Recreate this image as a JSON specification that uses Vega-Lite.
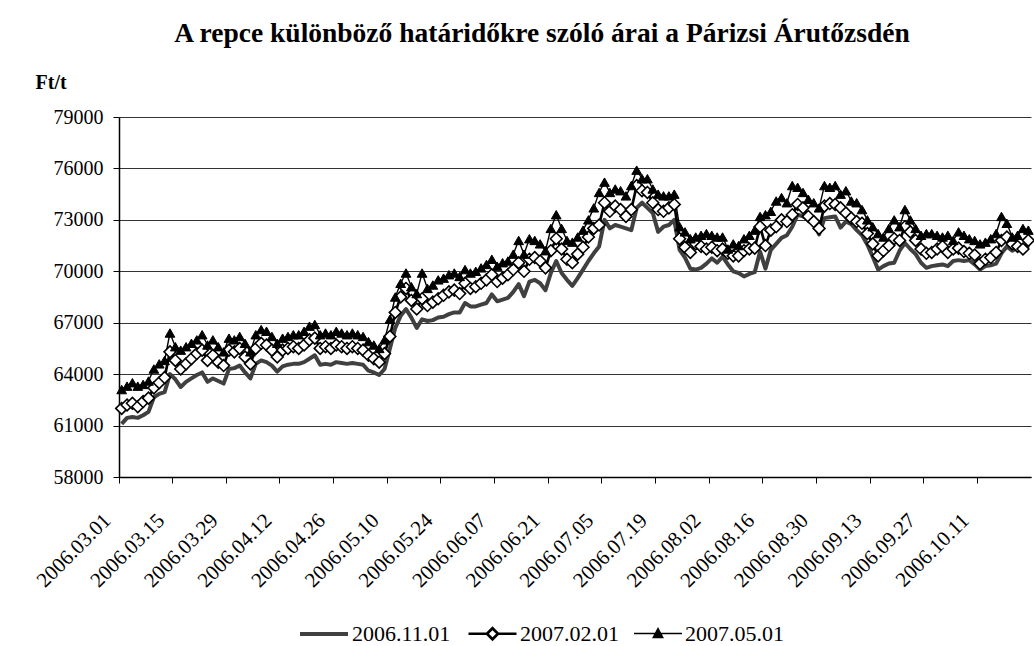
{
"$schema":"https://vega.github.io/schema/vega-lite/v6.json",
"width":912,"height":360,
"autosize":{"type":"none"},
"padding":{"left":119,"top":117,"right":3,"bottom":169},
"background":"white",
"config":{"view":{"stroke":null},"font":"Liberation Serif","axis":{"labelFont":"Liberation Serif","titleFont":"Liberation Serif"},"legend":{"labelFont":"Liberation Serif"}},
"title":{"text":"A repce különböző határidőkre szóló árai a Párizsi Árutőzsdén","font":"Liberation Serif","fontSize":27.5,"fontWeight":"bold","color":"#000","anchor":"middle","dx":-33,"offset":25},
"data":{"values":[
{"d":"2006.03.01","s1":61100,"s2":62000,"s3":63100},
{"d":"2006.03.02","s1":61450,"s2":62200,"s3":63300},
{"d":"2006.03.03","s1":61500,"s2":62300,"s3":63500},
{"d":"2006.03.06","s1":61450,"s2":62100,"s3":63300},
{"d":"2006.03.07","s1":61600,"s2":62400,"s3":63400},
{"d":"2006.03.08","s1":61800,"s2":62600,"s3":63600},
{"d":"2006.03.09","s1":62650,"s2":63200,"s3":64300},
{"d":"2006.03.10","s1":62850,"s2":63500,"s3":64600},
{"d":"2006.03.13","s1":62950,"s2":63800,"s3":64800},
{"d":"2006.03.14","s1":64000,"s2":65300,"s3":66400},
{"d":"2006.03.15","s1":63700,"s2":64800,"s3":65600},
{"d":"2006.03.16","s1":63250,"s2":64300,"s3":65400},
{"d":"2006.03.17","s1":63550,"s2":64600,"s3":65600},
{"d":"2006.03.20","s1":63750,"s2":64900,"s3":65800},
{"d":"2006.03.21","s1":63950,"s2":65200,"s3":66000},
{"d":"2006.03.22","s1":64100,"s2":65400,"s3":66300},
{"d":"2006.03.23","s1":63550,"s2":64800,"s3":65700},
{"d":"2006.03.24","s1":63750,"s2":65100,"s3":66000},
{"d":"2006.03.27","s1":63600,"s2":64700,"s3":65600},
{"d":"2006.03.28","s1":63450,"s2":64500,"s3":65300},
{"d":"2006.03.29","s1":64300,"s2":65400,"s3":66100},
{"d":"2006.03.30","s1":64350,"s2":65300,"s3":66000},
{"d":"2006.03.31","s1":64500,"s2":65500,"s3":66200},
{"d":"2006.04.03","s1":64100,"s2":65000,"s3":65800},
{"d":"2006.04.04","s1":63750,"s2":64600,"s3":65300},
{"d":"2006.04.05","s1":64600,"s2":65500,"s3":66300},
{"d":"2006.04.06","s1":64800,"s2":65800,"s3":66600},
{"d":"2006.04.07","s1":64700,"s2":65700,"s3":66500},
{"d":"2006.04.10","s1":64500,"s2":65400,"s3":66200},
{"d":"2006.04.11","s1":64150,"s2":65000,"s3":65800},
{"d":"2006.04.12","s1":64450,"s2":65400,"s3":66100},
{"d":"2006.04.13","s1":64550,"s2":65500,"s3":66200},
{"d":"2006.04.14","s1":64600,"s2":65600,"s3":66300},
{"d":"2006.04.17","s1":64600,"s2":65500,"s3":66300},
{"d":"2006.04.18","s1":64700,"s2":65700,"s3":66500},
{"d":"2006.04.19","s1":64900,"s2":66000,"s3":66800},
{"d":"2006.04.20","s1":65100,"s2":66100,"s3":66900},
{"d":"2006.04.21","s1":64550,"s2":65500,"s3":66300},
{"d":"2006.04.24","s1":64600,"s2":65600,"s3":66400},
{"d":"2006.04.25","s1":64550,"s2":65500,"s3":66300},
{"d":"2006.04.26","s1":64700,"s2":65700,"s3":66500},
{"d":"2006.04.27","s1":64650,"s2":65600,"s3":66400},
{"d":"2006.04.28","s1":64600,"s2":65500,"s3":66300},
{"d":"2006.05.01","s1":64650,"s2":65600,"s3":66400},
{"d":"2006.05.02","s1":64600,"s2":65500,"s3":66300},
{"d":"2006.05.03","s1":64550,"s2":65400,"s3":66200},
{"d":"2006.05.04","s1":64200,"s2":65100,"s3":65900},
{"d":"2006.05.05","s1":64100,"s2":64900,"s3":65700},
{"d":"2006.05.08","s1":63950,"s2":64700,"s3":65500},
{"d":"2006.05.09","s1":64300,"s2":65200,"s3":66000},
{"d":"2006.05.10","s1":65500,"s2":66200,"s3":67200},
{"d":"2006.05.11","s1":66700,"s2":67600,"s3":68500},
{"d":"2006.05.12","s1":67400,"s2":68500,"s3":69300},
{"d":"2006.05.15","s1":67800,"s2":69000,"s3":69900},
{"d":"2006.05.16","s1":67300,"s2":68300,"s3":69100},
{"d":"2006.05.17","s1":66700,"s2":67800,"s3":68700},
{"d":"2006.05.18","s1":67200,"s2":68400,"s3":69900},
{"d":"2006.05.19","s1":67100,"s2":68000,"s3":69000},
{"d":"2006.05.22","s1":67150,"s2":68200,"s3":69200},
{"d":"2006.05.23","s1":67300,"s2":68400,"s3":69500},
{"d":"2006.05.24","s1":67350,"s2":68600,"s3":69600},
{"d":"2006.05.25","s1":67500,"s2":68800,"s3":69800},
{"d":"2006.05.26","s1":67600,"s2":68900,"s3":69900},
{"d":"2006.05.29","s1":67600,"s2":68700,"s3":69700},
{"d":"2006.05.30","s1":68150,"s2":69300,"s3":70100},
{"d":"2006.05.31","s1":67950,"s2":69000,"s3":69900},
{"d":"2006.06.01","s1":67950,"s2":69100,"s3":70000},
{"d":"2006.06.02","s1":68050,"s2":69300,"s3":70200},
{"d":"2006.06.05","s1":68150,"s2":69500,"s3":70400},
{"d":"2006.06.06","s1":68650,"s2":69800,"s3":70700},
{"d":"2006.06.07","s1":68250,"s2":69400,"s3":70300},
{"d":"2006.06.08","s1":68350,"s2":69600,"s3":70500},
{"d":"2006.06.09","s1":68450,"s2":69800,"s3":70600},
{"d":"2006.06.12","s1":68800,"s2":70100,"s3":71000},
{"d":"2006.06.13","s1":69250,"s2":70500,"s3":71800},
{"d":"2006.06.14","s1":68550,"s2":70000,"s3":71000},
{"d":"2006.06.15","s1":69400,"s2":70700,"s3":71900},
{"d":"2006.06.16","s1":69500,"s2":70800,"s3":71800},
{"d":"2006.06.19","s1":69300,"s2":70600,"s3":71600},
{"d":"2006.06.20","s1":68900,"s2":70200,"s3":71200},
{"d":"2006.06.21","s1":69900,"s2":71200,"s3":72500},
{"d":"2006.06.22","s1":70600,"s2":71900,"s3":73300},
{"d":"2006.06.23","s1":69900,"s2":71300,"s3":72500},
{"d":"2006.06.26","s1":69500,"s2":70700,"s3":71800},
{"d":"2006.06.27","s1":69150,"s2":70500,"s3":71700},
{"d":"2006.06.28","s1":69600,"s2":71000,"s3":72000},
{"d":"2006.06.29","s1":70100,"s2":71400,"s3":72400},
{"d":"2006.06.30","s1":70600,"s2":72000,"s3":73000},
{"d":"2006.07.03","s1":71050,"s2":72500,"s3":73700},
{"d":"2006.07.04","s1":71450,"s2":72700,"s3":74600},
{"d":"2006.07.05","s1":73000,"s2":74000,"s3":75200},
{"d":"2006.07.06","s1":72500,"s2":73500,"s3":74600},
{"d":"2006.07.07","s1":72700,"s2":73800,"s3":74800},
{"d":"2006.07.10","s1":72600,"s2":73600,"s3":74700},
{"d":"2006.07.11","s1":72500,"s2":73200,"s3":74400},
{"d":"2006.07.12","s1":72400,"s2":73600,"s3":75000},
{"d":"2006.07.13","s1":73700,"s2":75000,"s3":75900},
{"d":"2006.07.14","s1":74000,"s2":74700,"s3":75400},
{"d":"2006.07.17","s1":73700,"s2":74600,"s3":75400},
{"d":"2006.07.18","s1":73400,"s2":74000,"s3":74800},
{"d":"2006.07.19","s1":72300,"s2":73600,"s3":74500},
{"d":"2006.07.20","s1":72600,"s2":73500,"s3":74400},
{"d":"2006.07.21","s1":72700,"s2":73700,"s3":74400},
{"d":"2006.07.24","s1":73000,"s2":73900,"s3":74500},
{"d":"2006.07.25","s1":71250,"s2":71900,"s3":72600},
{"d":"2006.07.26","s1":70800,"s2":71400,"s3":72300},
{"d":"2006.07.27","s1":70150,"s2":71100,"s3":71900},
{"d":"2006.07.28","s1":70100,"s2":71600,"s3":72000},
{"d":"2006.07.31","s1":70200,"s2":71450,"s3":72100},
{"d":"2006.08.01","s1":70450,"s2":71300,"s3":72200},
{"d":"2006.08.02","s1":70750,"s2":71400,"s3":72100},
{"d":"2006.08.03","s1":70500,"s2":71200,"s3":72000},
{"d":"2006.08.04","s1":70850,"s2":71300,"s3":72000},
{"d":"2006.08.07","s1":70400,"s2":71050,"s3":71300},
{"d":"2006.08.08","s1":70000,"s2":70900,"s3":71600},
{"d":"2006.08.09","s1":69900,"s2":70900,"s3":71500},
{"d":"2006.08.10","s1":69700,"s2":71200,"s3":71900},
{"d":"2006.08.11","s1":69850,"s2":71300,"s3":72100},
{"d":"2006.08.14","s1":69950,"s2":71350,"s3":72400},
{"d":"2006.08.15","s1":71150,"s2":72600,"s3":73200},
{"d":"2006.08.16","s1":70150,"s2":71500,"s3":73300},
{"d":"2006.08.17","s1":71250,"s2":72400,"s3":73500},
{"d":"2006.08.18","s1":71600,"s2":72600,"s3":74100},
{"d":"2006.08.21","s1":71950,"s2":73000,"s3":74300},
{"d":"2006.08.22","s1":72100,"s2":72900,"s3":74000},
{"d":"2006.08.23","s1":72600,"s2":73300,"s3":75000},
{"d":"2006.08.24","s1":73300,"s2":73900,"s3":74900},
{"d":"2006.08.25","s1":73200,"s2":73700,"s3":74600},
{"d":"2006.08.28","s1":73050,"s2":73200,"s3":74200},
{"d":"2006.08.29","s1":72800,"s2":72900,"s3":74000},
{"d":"2006.08.30","s1":72150,"s2":72500,"s3":73700},
{"d":"2006.08.31","s1":73100,"s2":73800,"s3":75000},
{"d":"2006.09.01","s1":73150,"s2":73950,"s3":74900},
{"d":"2006.09.04","s1":73200,"s2":73900,"s3":75000},
{"d":"2006.09.05","s1":72550,"s2":73700,"s3":74500},
{"d":"2006.09.06","s1":72900,"s2":73400,"s3":74700},
{"d":"2006.09.07","s1":72750,"s2":73100,"s3":74100},
{"d":"2006.09.08","s1":72400,"s2":72900,"s3":74000},
{"d":"2006.09.11","s1":72100,"s2":72800,"s3":73600},
{"d":"2006.09.12","s1":71550,"s2":72200,"s3":73000},
{"d":"2006.09.13","s1":70850,"s2":71600,"s3":72600},
{"d":"2006.09.14","s1":70100,"s2":70900,"s3":72200},
{"d":"2006.09.15","s1":70300,"s2":71200,"s3":72000},
{"d":"2006.09.18","s1":70450,"s2":71500,"s3":72500},
{"d":"2006.09.19","s1":70500,"s2":71900,"s3":73000},
{"d":"2006.09.20","s1":71200,"s2":71800,"s3":72600},
{"d":"2006.09.21","s1":71650,"s2":72600,"s3":73600},
{"d":"2006.09.22","s1":71300,"s2":72300,"s3":73000},
{"d":"2006.09.25","s1":71000,"s2":71800,"s3":72500},
{"d":"2006.09.26","s1":70500,"s2":71300,"s3":72100},
{"d":"2006.09.27","s1":70200,"s2":71050,"s3":72200},
{"d":"2006.09.28","s1":70300,"s2":71100,"s3":72200},
{"d":"2006.09.29","s1":70350,"s2":71300,"s3":72100},
{"d":"2006.10.02","s1":70400,"s2":71450,"s3":72000},
{"d":"2006.10.03","s1":70300,"s2":71100,"s3":72100},
{"d":"2006.10.04","s1":70600,"s2":71300,"s3":71800},
{"d":"2006.10.05","s1":70650,"s2":71350,"s3":72300},
{"d":"2006.10.06","s1":70600,"s2":71150,"s3":72100},
{"d":"2006.10.09","s1":70650,"s2":71050,"s3":71900},
{"d":"2006.10.10","s1":70400,"s2":70950,"s3":71800},
{"d":"2006.10.11","s1":70100,"s2":70450,"s3":71600},
{"d":"2006.10.12","s1":70300,"s2":70700,"s3":71700},
{"d":"2006.10.13","s1":70350,"s2":70800,"s3":71900},
{"d":"2006.10.16","s1":70450,"s2":71100,"s3":72200},
{"d":"2006.10.17","s1":71050,"s2":71800,"s3":73200},
{"d":"2006.10.18","s1":71450,"s2":72000,"s3":72800},
{"d":"2006.10.19","s1":71200,"s2":71600,"s3":72000},
{"d":"2006.10.20","s1":71400,"s2":71450,"s3":72100},
{"d":"2006.10.23","s1":71100,"s2":71300,"s3":72500},
{"d":"2006.10.24","s1":71500,"s2":71800,"s3":72400}
]},
"transform":[{"fold":["s1","s2","s3"],"as":["series","price"]}],
"encoding":{
 "x":{"field":"d","type":"ordinal","bandPosition":0.5,
   "scale":{"type":"band","paddingInner":0,"paddingOuter":0},
   "axis":{"title":null,"values":["2006.03.01","2006.03.15","2006.03.29","2006.04.12","2006.04.26","2006.05.10","2006.05.24","2006.06.07","2006.06.21","2006.07.05","2006.07.19","2006.08.02","2006.08.16","2006.08.30","2006.09.13","2006.09.27","2006.10.11"],
     "bandPosition":0,"labelAngle":-45,"labelAlign":"right","labelBaseline":"middle","labelPadding":34,"labelOffset":-14,"tickSize":6,
     "labelFont":"Liberation Serif","labelFontSize":21,"labelColor":"#000","domainColor":"#000","domainWidth":1.5,"tickColor":"#000","tickWidth":1,"grid":false,"labelOverlap":false,"labelBound":false}},
 "y":{"field":"price","type":"quantitative",
   "scale":{"domain":[58000,79000],"nice":false,"zero":false},
   "axis":{"title":"Ft/t","titleAngle":0,"titleX":-84,"titleY":-29,"titleAlign":"left","titleBaseline":"alphabetic","titleFont":"Liberation Serif","titleFontSize":20,"titleFontWeight":"bold","titleColor":"#000",
     "values":[58000,61000,64000,67000,70000,73000,76000,79000],"format":"d",
     "labelFont":"Liberation Serif","labelFontSize":20,"labelColor":"#000","labelPadding":10,"tickSize":6,"tickColor":"#000","domainColor":"#000","domainWidth":1.5,
     "grid":true,"gridColor":"#333333","gridWidth":1}}
},
"layer":[
 {"mark":{"type":"line","strokeJoin":"round"},
  "encoding":{
   "color":{"field":"series","type":"nominal","scale":{"domain":["s1","s2","s3"],"range":["#404040","#000000","#000000"]},
     "legend":{"orient":"none","legendX":179,"legendY":491,"direction":"horizontal","title":null,
       "labelExpr":"datum.value == 's1' ? '2006.11.01' : datum.value == 's2' ? '2007.02.01' : '2007.05.01'",
       "labelFont":"Liberation Serif","labelFontSize":22,"labelColor":"#000","symbolSize":2304,"labelOffset":2,"columnPadding":12,
       "encode":{"symbols":{"update":{
         "shape":{"signal":"datum.value == 's1' ? 'M-1,0H1' : datum.value == 's2' ? 'M-1,0H-0.23M0.23,0H1M-0.23,0L0,-0.23L0.23,0L0,0.23Z' : 'M-1,0H1M-0.2,0.17L0,-0.21L0.2,0.17Z'"},
         "fill":{"signal":"datum.value == 's2' ? '#ffffff' : '#000000'"},
         "stroke":{"signal":"datum.value == 's1' ? '#404040' : '#000000'"},
         "strokeWidth":{"signal":"datum.value == 's1' ? 4 : 1.5"},
         "opacity":{"value":1}}}}}},
   "strokeWidth":{"field":"series","type":"ordinal","scale":{"domain":["s1","s2","s3"],"range":[4,1.4,1.4]},"legend":null}
  }},
 {"transform":[{"filter":"datum.series == 's2'"}],
  "mark":{"type":"point","shape":"diamond","size":140,"filled":true,"fill":"#ffffff","stroke":"#000000","strokeWidth":1.6,"opacity":1}},
 {"transform":[{"filter":"datum.series == 's3'"}],
  "mark":{"type":"point","shape":"triangle-up","size":95,"filled":true,"fill":"#000000","stroke":"#000000","strokeWidth":1,"opacity":1}}
]
}
